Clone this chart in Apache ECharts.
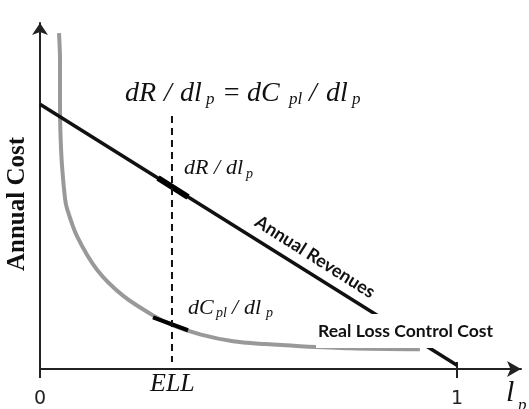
<!DOCTYPE html>
<html>
<head>
<meta charset="utf-8">
<script src="https://cdn.jsdelivr.net/npm/echarts@6/dist/echarts.min.js"></script>
<style>html,body{margin:0;padding:0;background:#fff;}#c{width:529px;height:409px;}</style>
</head>
<body>
<div id="c"></div>
<script>
// ---- data ----
const revenueX = [0, 1];
const revenueY = [76.5, 1.1];
const costX = [0.0456, 0.048, 0.048, 0.049, 0.0528, 0.060, 0.0647, 0.0887, 0.1367, 0.199, 0.271, 0.319, 0.384, 0.463, 0.540, 0.624, 0.743, 0.911];
const costY = [97.1, 89.4, 77.9, 68.5, 58.7, 49.3, 46.4, 38.4, 28.7, 21.2, 15.5, 12.6, 10.0, 8.0, 7.2, 6.6, 6.0, 5.7];
const tangentRevX = [0.283, 0.355];
const tangentRevY = [55.2, 49.7];
const tangentCostX = [0.271, 0.355];
const tangentCostY = [14.9, 11.2];
const ellX = [0.3165, 0.3165];
const ellY = [73.1, 2.0];
const xTickValues = [0, 1];
const xTickLabels = ['0', '1'];

const zip = (xs, ys) => xs.map((x, i) => [x, ys[i]]);

const serif = '"Liberation Serif", "Times New Roman", serif';
const sans = 'Lato, "Open Sans", sans-serif';

function tok(text, left, baseline, size, opts) {
  opts = opts || {};
  return {
    type: 'text', z: 100,
    style: {
      text: text, x: left, y: baseline - 0.3 * size,
      fontFamily: opts.family || serif,
      fontStyle: opts.style || 'italic',
      fontWeight: opts.weight || 'normal',
      fontSize: size, fill: opts.fill || '#111',
      align: 'left', verticalAlign: 'middle'
    }
  };
}

const graphics = [
  // top formula
  tok('dR', 125, 102, 28), tok('/', 164, 102, 28), tok('dl', 180, 102, 28), tok('p', 206, 105, 17),
  tok('=', 222, 102, 28), tok('dC', 247, 102, 28), tok('pl', 289, 105, 17),
  tok('/', 309, 102, 28), tok('dl', 326, 102, 28), tok('p', 352, 105, 17),
  // dR / dl_p
  tok('dR', 184, 175, 22), tok('/', 214, 175, 22), tok('dl', 226, 175, 22), tok('p', 246, 179, 14),
  // dC_pl / dl_p
  tok('dC', 188, 315, 22), tok('pl', 216, 318, 14), tok('/', 232, 315, 22), tok('dl', 244, 315, 22), tok('p', 266, 318, 14),
  // ELL
  tok('ELL', 150, 392, 26),
  // l_p
  tok('l', 506, 402, 30), tok('p', 518, 411, 17),
  {
    type: 'text', z: 100, x: 18, y: 204, rotation: Math.PI / 2,
    style: { text: 'Annual Cost', x: 0, y: 0, fontFamily: serif, fontWeight: 'bold', fontSize: 25,
      fill: '#111', align: 'center', verticalAlign: 'middle' }
  },
  {
    type: 'text', z: 100, x: 315, y: 257, rotation: -0.564,
    style: { text: 'Annual Revenues', x: 0, y: 0, fontFamily: sans, fontWeight: 'bold', fontSize: 18,
      fill: '#111', align: 'center', verticalAlign: 'middle' }
  },
  {
    type: 'text', z: 100,
    style: { text: 'Real Loss Control Cost', x: 316, y: 331, fontFamily: sans, fontWeight: 'bold', fontSize: 17.6,
      fill: '#111', align: 'left', verticalAlign: 'middle', backgroundColor: '#fff', padding: [8, 4, 8, 2] }
  }
];

const chart = echarts.init(document.getElementById('c'), null, { renderer: 'canvas' });
chart.setOption({
  animation: false,
  backgroundColor: '#fff',
  grid: { left: 40, right: 8, top: 23, bottom: 37 },
  xAxis: [{
    type: 'value', min: 0, max: 1.1535,
    axisLine: { show: true, symbol: ['none', 'arrow'], symbolSize: [12, 14], lineStyle: { color: '#222', width: 2 } },
    axisTick: { show: true, length: 9, customValues: xTickValues, lineStyle: { color: '#222', width: 2 } },
    axisLabel: { show: true, customValues: xTickValues, formatter: v => xTickLabels[xTickValues.indexOf(v)] || '',
      margin: 21, fontFamily: '"DejaVu Sans", sans-serif', fontSize: 19, color: '#222' },
    splitLine: { show: false }
  }, {
    type: 'value', min: 0, max: 1.1535, position: 'bottom',
    axisLine: { show: false },
    axisTick: { show: true, inside: true, length: 7, customValues: [xTickValues[1]], lineStyle: { color: '#222', width: 2 } },
    axisLabel: { show: false }, splitLine: { show: false }
  }],
  yAxis: {
    type: 'value', min: 0, max: 100,
    axisLine: { show: true, symbol: ['none', 'arrow'], symbolSize: [12, 12], lineStyle: { color: '#222', width: 2 } },
    axisTick: { show: false }, axisLabel: { show: false }, splitLine: { show: false }
  },
  series: [
    { type: 'line', data: zip(costX, costY), symbol: 'none', smooth: 0.3, lineStyle: { color: '#999', width: 4 }, z: 3 },
    { type: 'line', data: zip(revenueX, revenueY), symbol: 'none', lineStyle: { color: '#111', width: 3.5 }, z: 4 },
    { type: 'line', data: zip(tangentRevX, tangentRevY), symbol: 'none', lineStyle: { color: '#000', width: 6 }, z: 5 },
    { type: 'line', data: zip(tangentCostX, tangentCostY), symbol: 'none', lineStyle: { color: '#000', width: 4 }, z: 5 },
    { type: 'line', data: zip(ellX, ellY), symbol: 'none', lineStyle: { color: '#111', width: 2, type: [7, 5] }, z: 5 }
  ],
  graphic: graphics
});
</script>
</body>
</html>
